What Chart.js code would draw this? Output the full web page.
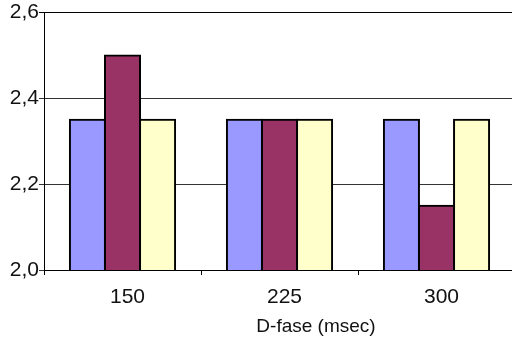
<!DOCTYPE html>
<html>
<head>
<meta charset="utf-8">
<script src="https://cdn.jsdelivr.net/npm/chart.js@4/dist/chart.umd.min.js"></script>
<style>
  html, body { margin: 0; padding: 0; background: #fff; overflow: hidden; }
  #wrap { width: 515px; height: 338px; }
</style>
</head>
<body>
<div id="wrap"><canvas id="c"></canvas></div>
<script>
// D-fase groups and the three series plotted per group
const categories = ['150', '225', '300'];
const seriesA = [2.35, 2.35, 2.35];
const seriesB = [2.5, 2.35, 2.15];
const seriesC = [2.35, 2.35, 2.35];
const yTicks = [2.0, 2.2, 2.4, 2.6];
const xTitle = 'D-fase (msec)';

const fontFamily = '"Liberation Sans", Arial, sans-serif';
const fmt = v => Number(v).toFixed(1).replace('.', ',');

// Axis caption drawn a little right of the axis centre
const captionPlugin = {
  id: 'caption',
  afterDraw(chart) {
    const { ctx } = chart;
    ctx.save();
    ctx.font = '19px ' + fontFamily;
    ctx.fillStyle = '#111';
    ctx.textAlign = 'center';
    ctx.textBaseline = 'alphabetic';
    ctx.fillText(xTitle, 316, 332);
    ctx.restore();
  }
};

new Chart(document.getElementById('c'), {
  type: 'bar',
  data: {
    labels: categories,
    datasets: [
      { data: seriesA, backgroundColor: '#9999FF' },
      { data: seriesB, backgroundColor: '#993366' },
      { data: seriesC, backgroundColor: '#FFFFCC' }
    ]
  },
  plugins: [captionPlugin],
  options: {
    responsive: true,
    maintainAspectRatio: false,
    animation: false,
    datasets: {
      bar: {
        borderColor: '#000',
        borderWidth: 2,
        borderSkipped: false,
        inflateAmount: 1,
        categoryPercentage: 0.67,
        barPercentage: 1.0
      }
    },
    layout: { padding: { top: 12, left: 0, right: 0, bottom: 0 } },
    plugins: { legend: { display: false }, tooltip: { enabled: false } },
    scales: {
      x: {
        grid: {
          offset: true,
          drawOnChartArea: false,
          drawTicks: true,
          tickLength: 5,
          color: '#000'
        },
        border: { color: '#000', width: 1 },
        ticks: {
          color: '#111',
          font: { family: fontFamily, size: 21 },
          padding: 10,
          labelOffset: 5
        },
        afterFit: s => { s.height = 68; }
      },
      y: {
        min: 2.0,
        max: 2.6,
        afterBuildTicks: s => { s.ticks = yTicks.map(v => ({ value: v })); },
        grid: {
          color: ctx => (ctx.tick && ctx.tick.value >= 2.6) ? '#000' : '#333',
          lineWidth: 1,
          tickLength: 5,
          drawTicks: true
        },
        border: { color: '#000', width: 1 },
        ticks: {
          color: '#111',
          font: { family: fontFamily, size: 21 },
          padding: 0,
          callback: v => fmt(v)
        },
        afterFit: s => { s.width = 44; }
      }
    }
  }
});
</script>
</body>
</html>
